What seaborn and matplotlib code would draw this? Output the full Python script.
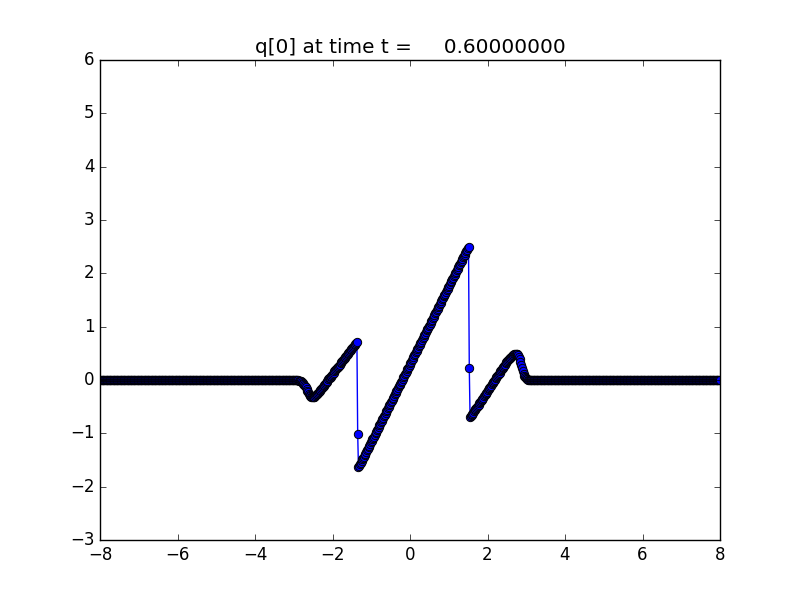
import numpy as np
import pandas as pd
import matplotlib
matplotlib.use("Agg")
import matplotlib.pyplot as plt
import seaborn as sns

# grid of the solution (cell centres)
xlower, xupper, num_cells = -8.0, 8.0, 800
t_frame = 0.6

# q[0], cell by cell (dx = 0.02)
q_left_zero = [0.0] * 250          # x = -7.99 .. -3.01
q_left_hump = [                    # x = -2.99 .. -1.37
    0.0, 0.0, 0.0, 0.0, 0.0, -0.005, -0.01, -0.01, -0.02, -0.025,
    -0.035, -0.05, -0.07, -0.09, -0.115, -0.14, -0.17, -0.20, -0.23, -0.26,
    -0.28, -0.30, -0.315, -0.32, -0.32, -0.32, -0.31, -0.30, -0.29, -0.27,
    -0.255, -0.24, -0.22, -0.20, -0.18, -0.16, -0.15, -0.13, -0.11, -0.09,
    -0.07, -0.05, -0.03, -0.01, 0.01, 0.03, 0.04, 0.06, 0.08, 0.10,
    0.12, 0.14, 0.16, 0.18, 0.20, 0.22, 0.24, 0.25, 0.27, 0.29,
    0.31, 0.33, 0.35, 0.37, 0.39, 0.41, 0.43, 0.45, 0.46, 0.48,
    0.50, 0.52, 0.54, 0.56, 0.58, 0.60, 0.62, 0.64, 0.65, 0.67,
    0.69, 0.71,
]
q_jump_1 = [-1.01]                 # x = -1.35
q_ramp = [                         # x = -1.33 .. 1.51
    -1.64, -1.61, -1.58, -1.55, -1.52, -1.49, -1.47, -1.44, -1.41, -1.38,
    -1.35, -1.32, -1.29, -1.26, -1.23, -1.20, -1.17, -1.14, -1.11, -1.09,
    -1.06, -1.03, -1.00, -0.97, -0.94, -0.91, -0.88, -0.85, -0.82, -0.79,
    -0.77, -0.74, -0.71, -0.68, -0.65, -0.62, -0.59, -0.56, -0.53, -0.50,
    -0.47, -0.45, -0.42, -0.39, -0.36, -0.33, -0.30, -0.27, -0.24, -0.21,
    -0.18, -0.15, -0.12, -0.10, -0.07, -0.04, -0.01, 0.02, 0.05, 0.08,
    0.11, 0.14, 0.17, 0.20, 0.23, 0.25, 0.28, 0.31, 0.34, 0.37,
    0.40, 0.43, 0.46, 0.49, 0.52, 0.55, 0.58, 0.60, 0.63, 0.66,
    0.69, 0.72, 0.75, 0.78, 0.81, 0.84, 0.87, 0.90, 0.93, 0.95,
    0.98, 1.01, 1.04, 1.07, 1.10, 1.13, 1.16, 1.19, 1.22, 1.25,
    1.28, 1.31, 1.33, 1.36, 1.39, 1.42, 1.45, 1.48, 1.51, 1.54,
    1.57, 1.60, 1.62, 1.65, 1.68, 1.71, 1.74, 1.77, 1.80, 1.83,
    1.86, 1.89, 1.92, 1.95, 1.97, 2.00, 2.03, 2.06, 2.09, 2.12,
    2.15, 2.18, 2.21, 2.24, 2.27, 2.30, 2.32, 2.35, 2.38, 2.41,
    2.44, 2.47, 2.50,
]
q_jump_2 = [0.22]                  # x = 1.53
q_right_hump = [                   # x = 1.55 .. 3.11
    -0.70, -0.68, -0.66, -0.63, -0.61, -0.59, -0.57, -0.55, -0.52, -0.50,
    -0.48, -0.46, -0.44, -0.41, -0.39, -0.37, -0.35, -0.33, -0.30, -0.28,
    -0.26, -0.24, -0.22, -0.19, -0.17, -0.15, -0.13, -0.11, -0.08, -0.06,
    -0.04, -0.02, 0.00, 0.03, 0.05, 0.07, 0.09, 0.11, 0.14, 0.16,
    0.18, 0.20, 0.22, 0.25, 0.27, 0.29, 0.31, 0.33, 0.35, 0.37,
    0.39, 0.41, 0.42, 0.44, 0.45, 0.46, 0.47, 0.48, 0.49, 0.49,
    0.49, 0.48, 0.46, 0.43, 0.39, 0.34, 0.29, 0.23, 0.17, 0.12,
    0.08, 0.05, 0.03, 0.02, 0.01, 0.005, 0.0, 0.0, 0.0,
]

q_active = q_left_hump + q_jump_1 + q_ramp + q_jump_2 + q_right_hump
q_right_zero = [0.0] * (num_cells - len(q_left_zero) - len(q_active))
q = q_left_zero + q_active + q_right_zero

dx = (xupper - xlower) / num_cells
x_centers = np.linspace(xlower + dx / 2, xupper - dx / 2, num_cells)
df = pd.DataFrame({"x": x_centers, "q": q})

# old matplotlib look (clawpack plots)
plt.style.use("classic")
fig = plt.figure(figsize=(8, 6), dpi=100)
ax = fig.add_subplot(111)

sns.lineplot(data=df, x="x", y="q", ax=ax, sort=False, estimator=None,
             color="b", linewidth=1, marker="o", markersize=6,
             markerfacecolor="b", markeredgecolor="k", markeredgewidth=0.7)

ax.set_xlim(-8, 8)
ax.set_ylim(-3, 6)
ax.set_xlabel("")
ax.set_ylabel("")
ax.set_title("q[0] at time t = %14.8f" % t_frame)

fig.savefig("out.png", dpi=100, facecolor="white")
